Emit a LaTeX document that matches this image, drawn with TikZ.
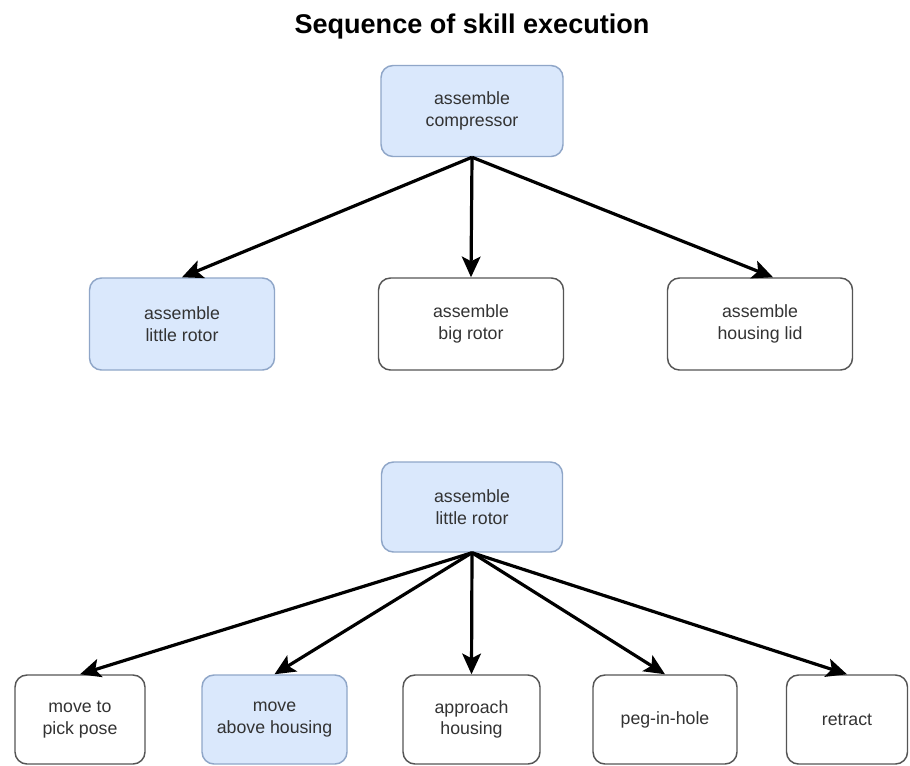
\documentclass[tikz,border=0pt]{standalone}
\usepackage{fontspec}
\setmainfont{Liberation Sans}
\usetikzlibrary{arrows.meta,calc}
\definecolor{bluefill}{HTML}{DAE8FC}
\definecolor{bluedraw}{HTML}{8FA6C8}
\definecolor{boxdraw}{HTML}{555555}
\definecolor{txt}{HTML}{333333}
\begin{document}
\begin{tikzpicture}[x=0.75pt,y=-0.75pt,
  box/.style={draw=boxdraw, line width=1.1pt, rounded corners=9pt, fill=white,
    align=center, inner sep=0pt, font=\fontsize{13.3}{16}\selectfont, text=txt},
  bbox/.style={box, fill=bluefill, draw=bluedraw},
  rowtwo/.style={minimum width=138.75pt, minimum height=69pt},
  rowfour/.style={minimum height=66.75pt},
  arr/.style={line width=2.4pt, -{Stealth[length=15.5pt,width=14pt,inset=3.5pt]}}]
\useasboundingbox (0,0) rectangle (910,765);
\fill[white] (0,0) rectangle (910,765);

\node[font=\bfseries\fontsize{20.3}{24}\selectfont] (title) at (472,26) {Sequence of skill execution};

\node[bbox, minimum width=136.5pt, minimum height=68.25pt] (comp) at (472,111) {assemble\\compressor};

\node[bbox, rowtwo] (little) at (182,324) {assemble\\little rotor};
\node[box, rowtwo] (big) at (471,324) {assemble\\big rotor};
\node[box, rowtwo] (lid) at (760,324) {assemble\\housing lid};

\node[bbox, minimum width=135.75pt, minimum height=67.5pt] (little2) at (472,507) {assemble\\little rotor};

\node[box, rowfour, minimum width=97.5pt] (pick) at (80,719.5) {move to\\pick pose};
\node[bbox, rowfour, minimum width=108.75pt] (above) at (274.5,719.5) {move\\above housing};
\node[box, rowfour, minimum width=102.75pt] (approach) at (471.5,719.5) {approach\\housing};
\node[box, rowfour, minimum width=108pt] (peg) at (665,719.5) {peg-in-hole};
\node[box, rowfour, minimum width=90.75pt] (retract) at (847,719.5) {retract};

\draw[arr] (comp.south) -- (little.north);
\draw[arr] (comp.south) -- (big.north);
\draw[arr] (comp.south) -- ($(lid.north)+(13,0)$);

\draw[arr] (little2.south) -- (pick.north);
\draw[arr] (little2.south) -- (above.north);
\draw[arr] (little2.south) -- (approach.north);
\draw[arr] (little2.south) -- (peg.north);
\draw[arr] (little2.south) -- (retract.north);
\end{tikzpicture}
\end{document}
